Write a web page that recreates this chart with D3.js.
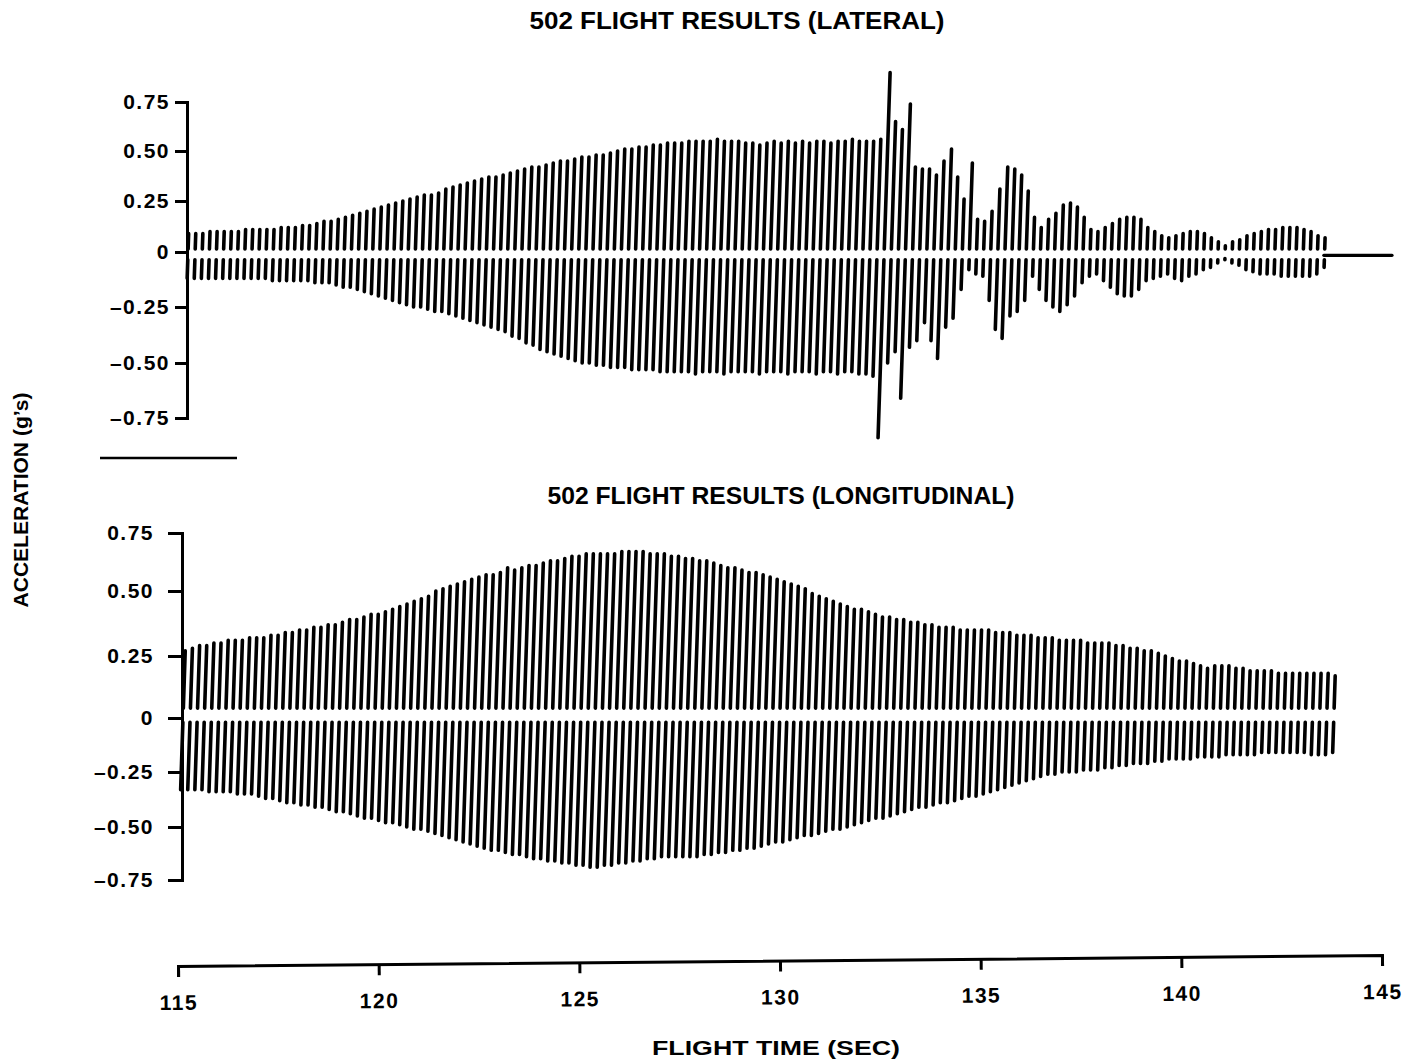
<!DOCTYPE html>
<html>
<head>
<meta charset="utf-8">
<script src="https://cdn.jsdelivr.net/npm/d3@7"></script>
<style>
  html, body { margin: 0; padding: 0; background: #fff; }
  text { font-family: "Liberation Sans", Arial, sans-serif; font-weight: bold; fill: #000; }
</style>
</head>
<body>
<script>
// ---------------- DATA ----------------
const xTicks = [115, 120, 125, 130, 135, 140, 145];
const yTicks = [-0.75, -0.5, -0.25, 0, 0.25, 0.5, 0.75];
const yTickLabels = ["\u20130.75", "\u20130.50", "\u20130.25", "0", "0.25", "0.50", "0.75"];

const titleLateral = "502 FLIGHT RESULTS  (LATERAL)";
const titleLongitudinal = "502 FLIGHT RESULTS  (LONGITUDINAL)";
const xTitle = "FLIGHT TIME (SEC)";
const yTitle = "ACCELERATION (g\u2019s)";

// cycle timing (seconds)
const latStart = 115.25, latPeriod = 0.177;
const lonStart = 115.125, lonPeriod = 0.177;

// lateral: positive peak / negative trough of each oscillation cycle (g)
const latUpper = [
 0.09,0.09,0.09,0.10,0.10,0.10,0.10,0.10,0.11,0.11,
 0.11,0.11,0.11,0.12,0.12,0.12,0.13,0.13,0.14,0.15,
 0.15,0.16,0.17,0.18,0.19,0.20,0.21,0.22,0.23,0.24,
 0.25,0.26,0.27,0.28,0.28,0.29,0.31,0.32,0.33,0.34,
 0.35,0.36,0.37,0.37,0.38,0.39,0.40,0.41,0.42,0.42,
 0.43,0.44,0.45,0.45,0.46,0.47,0.47,0.48,0.48,0.49,
 0.50,0.51,0.51,0.52,0.52,0.53,0.53,0.54,0.54,0.54,
 0.55,0.55,0.55,0.55,0.56,0.55,0.55,0.55,0.54,0.54,
 0.53,0.54,0.55,0.54,0.55,0.54,0.55,0.54,0.55,0.55,
 0.54,0.55,0.55,0.56,0.55,0.55,0.55,0.56,0.90,0.65,
 0.61,0.74,0.42,0.41,0.41,0.38,0.45,0.51,0.37,0.26,
 0.44,0.16,0.15,0.20,0.31,0.42,0.41,0.38,0.30,0.17,
 0.12,0.16,0.19,0.23,0.24,0.22,0.17,0.11,0.10,0.12,
 0.14,0.16,0.17,0.17,0.16,0.12,0.10,0.08,0.07,0.08,
 0.09,0.10,0.10,0.09,0.07,0.05,0.03,0.05,0.06,0.08,
 0.09,0.10,0.11,0.11,0.12,0.12,0.12,0.11,0.10,0.08,0.07
];
const latLower = [
 -0.12,-0.12,-0.12,-0.12,-0.12,-0.12,-0.12,-0.12,-0.12,-0.12,
 -0.12,-0.12,-0.13,-0.13,-0.13,-0.13,-0.13,-0.13,-0.14,-0.14,
 -0.14,-0.15,-0.16,-0.16,-0.17,-0.18,-0.19,-0.20,-0.21,-0.22,
 -0.23,-0.24,-0.25,-0.25,-0.26,-0.27,-0.27,-0.28,-0.29,-0.30,
 -0.31,-0.32,-0.33,-0.34,-0.35,-0.36,-0.38,-0.39,-0.41,-0.42,
 -0.44,-0.45,-0.46,-0.47,-0.48,-0.49,-0.50,-0.50,-0.51,-0.51,
 -0.52,-0.52,-0.52,-0.53,-0.53,-0.53,-0.53,-0.54,-0.54,-0.54,
 -0.54,-0.54,-0.55,-0.54,-0.54,-0.54,-0.55,-0.54,-0.54,-0.54,
 -0.54,-0.55,-0.54,-0.54,-0.54,-0.55,-0.54,-0.54,-0.54,-0.55,
 -0.54,-0.54,-0.55,-0.54,-0.54,-0.55,-0.55,-0.56,-0.84,-0.50,
 -0.45,-0.66,-0.43,-0.40,-0.32,-0.40,-0.48,-0.34,-0.30,-0.17,
 -0.08,-0.10,-0.11,-0.22,-0.35,-0.39,-0.29,-0.27,-0.22,-0.11,
 -0.17,-0.22,-0.25,-0.27,-0.24,-0.20,-0.14,-0.11,-0.10,-0.13,
 -0.16,-0.19,-0.20,-0.20,-0.17,-0.13,-0.12,-0.11,-0.10,-0.12,
 -0.13,-0.11,-0.10,-0.08,-0.07,-0.05,-0.03,-0.05,-0.06,-0.08,
 -0.09,-0.10,-0.10,-0.10,-0.11,-0.11,-0.11,-0.11,-0.11,-0.10,-0.07
];
// lateral trace after the oscillation ends: [time, g]
const latTail = [[143.55, -0.015], [145.25, -0.015]];

// longitudinal: positive peak / negative trough of each cycle (g)
const lonUpper = [
 0.27,0.28,0.29,0.29,0.30,0.30,0.31,0.31,0.31,0.32,
 0.32,0.32,0.33,0.33,0.34,0.34,0.35,0.35,0.36,0.36,
 0.37,0.37,0.38,0.39,0.39,0.40,0.41,0.41,0.42,0.43,
 0.44,0.45,0.46,0.47,0.48,0.50,0.51,0.52,0.53,0.54,
 0.55,0.56,0.57,0.57,0.58,0.60,0.59,0.60,0.61,0.61,
 0.62,0.63,0.63,0.64,0.65,0.65,0.66,0.66,0.66,0.66,
 0.66,0.67,0.67,0.67,0.67,0.66,0.66,0.66,0.65,0.65,
 0.64,0.64,0.63,0.63,0.62,0.61,0.60,0.60,0.59,0.58,
 0.58,0.57,0.56,0.55,0.54,0.53,0.52,0.51,0.49,0.48,
 0.47,0.46,0.45,0.44,0.43,0.43,0.42,0.41,0.40,0.40,
 0.39,0.39,0.38,0.38,0.37,0.37,0.36,0.36,0.36,0.35,
 0.35,0.35,0.35,0.35,0.34,0.34,0.34,0.33,0.33,0.33,
 0.32,0.32,0.32,0.31,0.31,0.31,0.31,0.30,0.30,0.30,
 0.30,0.29,0.29,0.28,0.28,0.27,0.27,0.26,0.25,0.24,
 0.23,0.23,0.22,0.21,0.20,0.21,0.21,0.21,0.20,0.20,
 0.19,0.19,0.19,0.19,0.18,0.18,0.18,0.18,0.18,0.18,
 0.18,0.18,0.17
];
const lonLower = [
 -0.33,-0.33,-0.33,-0.33,-0.34,-0.34,-0.34,-0.34,-0.35,-0.35,
 -0.35,-0.36,-0.37,-0.37,-0.38,-0.39,-0.39,-0.40,-0.40,-0.41,
 -0.41,-0.42,-0.43,-0.43,-0.44,-0.45,-0.46,-0.46,-0.47,-0.48,
 -0.48,-0.49,-0.50,-0.51,-0.51,-0.52,-0.53,-0.54,-0.55,-0.56,
 -0.57,-0.58,-0.59,-0.60,-0.61,-0.61,-0.62,-0.63,-0.63,-0.64,
 -0.65,-0.65,-0.66,-0.66,-0.67,-0.67,-0.68,-0.68,-0.69,-0.69,
 -0.68,-0.68,-0.67,-0.67,-0.66,-0.66,-0.65,-0.65,-0.64,-0.64,
 -0.64,-0.64,-0.64,-0.64,-0.63,-0.63,-0.62,-0.62,-0.61,-0.61,
 -0.60,-0.60,-0.59,-0.58,-0.57,-0.57,-0.56,-0.55,-0.54,-0.54,
 -0.53,-0.52,-0.51,-0.51,-0.50,-0.49,-0.48,-0.47,-0.46,-0.46,
 -0.45,-0.44,-0.43,-0.42,-0.41,-0.41,-0.40,-0.39,-0.39,-0.38,
 -0.37,-0.36,-0.36,-0.35,-0.34,-0.33,-0.32,-0.31,-0.30,-0.29,
 -0.28,-0.27,-0.26,-0.26,-0.25,-0.25,-0.25,-0.24,-0.24,-0.24,
 -0.23,-0.23,-0.22,-0.22,-0.21,-0.21,-0.21,-0.20,-0.20,-0.19,
 -0.19,-0.19,-0.19,-0.18,-0.18,-0.18,-0.18,-0.17,-0.17,-0.17,
 -0.17,-0.17,-0.16,-0.16,-0.16,-0.16,-0.16,-0.16,-0.16,-0.17,
 -0.17,-0.17,-0.16
];

// ---------------- CHART ----------------
const W = 1418, H = 1062;
const svg = d3.select("body").append("svg").attr("width", W).attr("height", H);

const x = d3.scaleLinear().domain([115, 145]).range([178, 1382]);
const yLat = d3.scaleLinear().domain(yTicks).range([418, 363, 307, 252, 201, 151, 102]);
const yLon = d3.scaleLinear().domain(yTicks).range([880, 827, 772, 718, 656, 591, 533]);

function drawBars(y, start, period, upper, lower, gapUp, gapLo, sw) {
  const y0 = y(0), lean = 0.033;
  const segs = [];
  upper.forEach((v, i) => segs.push({t: start + i * period, a: gapUp, b: v}));
  lower.forEach((v, i) => segs.push({t: start + i * period, a: gapLo, b: v}));
  svg.append("g")
    .selectAll("path").data(segs).join("path")
    .attr("d", d => {
      const xc = x(d.t), ya = y(d.a), yb = y(d.b);
      return `M${xc + lean * (y0 - ya)},${ya}L${xc + lean * (y0 - yb)},${yb}`;
    })
    .attr("fill", "none").attr("stroke", "#000")
    .attr("stroke-width", sw).attr("stroke-linecap", "round");
}

function styleAxis(g, fs) {
  g.select(".domain").attr("stroke", "#000").attr("stroke-width", 3);
  g.selectAll(".tick line").attr("stroke", "#000").attr("stroke-width", 3);
  g.selectAll(".tick text").attr("font-size", fs).attr("letter-spacing", "1.5px")
    .attr("font-family", "'Liberation Sans', Arial, sans-serif").attr("font-weight", "bold");
}

// ---- lateral panel
svg.append("text").attr("x", 737).attr("y", 29).attr("text-anchor", "middle")
  .attr("font-size", 23).attr("textLength", 415).attr("lengthAdjust", "spacingAndGlyphs")
  .text(titleLateral);

const gyLat = svg.append("g").attr("transform", "translate(187,0)")
  .call(d3.axisLeft(yLat).tickValues(yTicks).tickSize(12).tickSizeOuter(8).tickPadding(5)
    .tickFormat((d, i) => yTickLabels[i]));
styleAxis(gyLat, 21);

drawBars(yLat, latStart, latPeriod, latUpper, latLower, 0.015, -0.035, 3.6);
svg.append("path")
  .attr("d", d3.line().x(d => x(d[0])).y(d => yLat(d[1]))(latTail))
  .attr("fill", "none").attr("stroke", "#000").attr("stroke-width", 3.2).attr("stroke-linecap", "round");

// short rule under the lateral panel
svg.append("line").attr("x1", 100).attr("x2", 237).attr("y1", 458).attr("y2", 458)
  .attr("stroke", "#000").attr("stroke-width", 2.5);

// ---- longitudinal panel
svg.append("text").attr("x", 781).attr("y", 504).attr("text-anchor", "middle")
  .attr("font-size", 23).attr("textLength", 467).attr("lengthAdjust", "spacingAndGlyphs")
  .text(titleLongitudinal);

const gyLon = svg.append("g").attr("transform", "translate(182,0)")
  .call(d3.axisLeft(yLon).tickValues(yTicks).tickSize(14).tickSizeOuter(9).tickPadding(14)
    .tickFormat((d, i) => yTickLabels[i]));
styleAxis(gyLon, 21);

drawBars(yLon, lonStart, lonPeriod, lonUpper, lonLower, 0.04, -0.02, 3.6);

// ---- shared x axis (slightly tilted like the original)
const gx = svg.append("g").attr("transform", "translate(0,966) rotate(-0.52,178,0)")
  .call(d3.axisBottom(x).tickValues(xTicks).tickSize(11).tickSizeOuter(11).tickPadding(18)
    .tickFormat(d3.format("d")));
styleAxis(gx, 21);

svg.append("text").attr("x", 776).attr("y", 1055).attr("text-anchor", "middle")
  .attr("font-size", 21).attr("textLength", 248).attr("lengthAdjust", "spacingAndGlyphs")
  .text(xTitle);

svg.append("text").attr("transform", "translate(28,500) rotate(-90)").attr("text-anchor", "middle")
  .attr("font-size", 20).attr("textLength", 215).attr("lengthAdjust", "spacingAndGlyphs")
  .text(yTitle);
</script>
</body>
</html>
